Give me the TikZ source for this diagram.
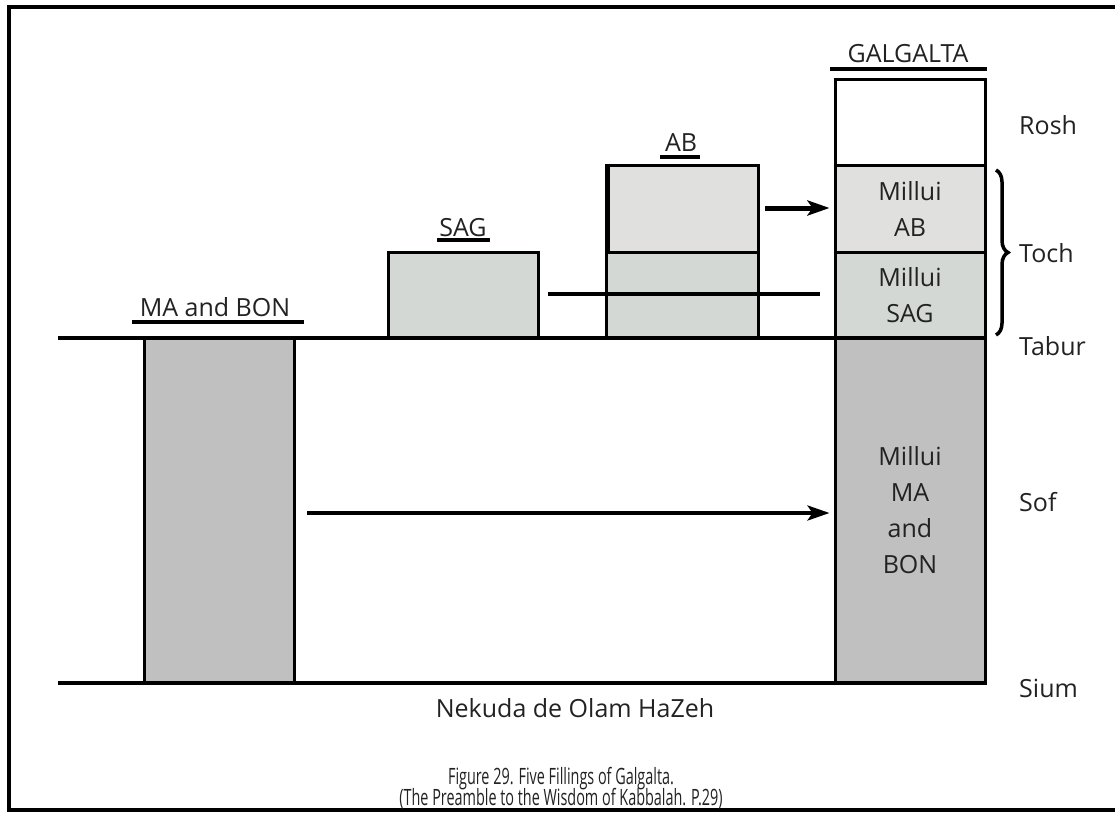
\documentclass[tikz,border=0pt]{standalone}
\usepackage{fontspec}
\setmainfont{Open Sans}
\newfontfamily\capfont[FakeStretch=0.64]{Open Sans}
\usetikzlibrary{arrows.meta,decorations.pathreplacing}
\definecolor{lightc}{RGB}{224,225,223}
\definecolor{sagc}{RGB}{212,216,212}
\definecolor{darkc}{RGB}{192,192,192}
\definecolor{txt}{RGB}{34,34,34}
\begin{document}
\begin{tikzpicture}[x=1pt,y=-1pt,
  lbl/.style={font=\fontsize{25}{36}\selectfont, text=txt, inner sep=0pt},
  cell/.style={draw, line width=3pt, minimum width=150pt, inner sep=0pt, align=center,
    font=\fontsize{25}{36}\selectfont, text=txt},
  uline/.style={line width=3.5pt},
  thickline/.style={line width=4.5pt},
  arr/.style={-{Stealth[length=22pt,width=15pt,inset=5pt]}},
  captext/.style={inner sep=0pt, text=txt, font=\capfont\fontsize{22.5}{24}\selectfont}
]
\useasboundingbox (0,0) rectangle (1115,813);
% frame
\draw[line width=4pt] (1125,7) -- (9,7) -- (9,810) -- (1125,810);

% boxes
\node[cell, fill=darkc, minimum height=345pt] (mab) at (219,510.5) {};
\node[cell, fill=sagc, minimum height=86pt] (sag) at (463,295) {};
\node[cell, fill=sagc, minimum width=152pt, minimum height=86pt] (ablo) at (682,295) {};
\node[cell, fill=lightc, minimum width=152pt, minimum height=86pt] (abhi) at (682,209) {};
\draw[line width=5pt] (607,166) -- (607,254);
\node[cell, fill=white, minimum height=86pt] (rosh) at (910,123) {};
\node[cell, fill=lightc, minimum height=86pt] (mab1) at (910,209) {Millui\\AB};
\node[cell, fill=sagc, minimum height=86pt] (msag) at (910,295) {Millui\\SAG};
\node[cell, fill=darkc, minimum height=345pt] (mmab) at (910,510.5) {Millui\\MA\\and\\BON};

% ground lines
\coordinate (taburL) at (58,338);
\coordinate (siumL) at (58,683);
\draw[thickline] (taburL) -- (taburL -| mmab.east);
\draw[thickline] (siumL) -- (siumL -| mmab.east);

% middle line
\coordinate (midL) at (548,294);
\coordinate (midR) at (820,294);
\draw[thickline] (midL) -- (midR);

% arrows
\coordinate (a1) at (765,208);
\draw[line width=5pt, arr] (a1) -- ([xshift=-4pt]a1 -| mab1.west);
\coordinate (a2) at (307,513);
\draw[line width=3.5pt, arr] (a2) -- ([xshift=-4pt]a2 -| mmab.west);

% brace
\draw[decorate, decoration={brace, amplitude=12pt}, line width=3.5pt] (996,170) -- (996,335);

% titles
\node[lbl] (galT) at (908,54) {GALGALTA};
\draw[uline] (830,69) -- (987,69);
\node[lbl] (abT) at (681,143) {AB};
\draw[uline] (660,157) -- (700,157);
\node[lbl] (sagT) at (463,228) {SAG};
\draw[uline] (437,240) -- (490,240);
\node[lbl] (mabT) at (215,307) {MA and BON};
\draw[uline] (132,322) -- (304,322);

% right labels
\node[lbl, anchor=west] (roshL) at (1019,125) {Rosh};
\node[lbl, anchor=west] (tochL) at (1019,253) {Toch};
\node[lbl, anchor=west] (taburT) at (1019,346) {Tabur};
\node[lbl, anchor=west] (sofL) at (1019,502) {Sof};
\node[lbl, anchor=west] (siumT) at (1019,688) {Sium};

% bottom texts
\node[lbl] (nek) at (575,708) {Nekuda de Olam HaZeh};
\node[captext] (cap1) at (561,779) {Figure 29. Five Fillings of Galgalta.};
\node[captext] (cap2) at (561,799) {(The Preamble to the Wisdom of Kabbalah. P.29)};
\end{tikzpicture}
\end{document}
